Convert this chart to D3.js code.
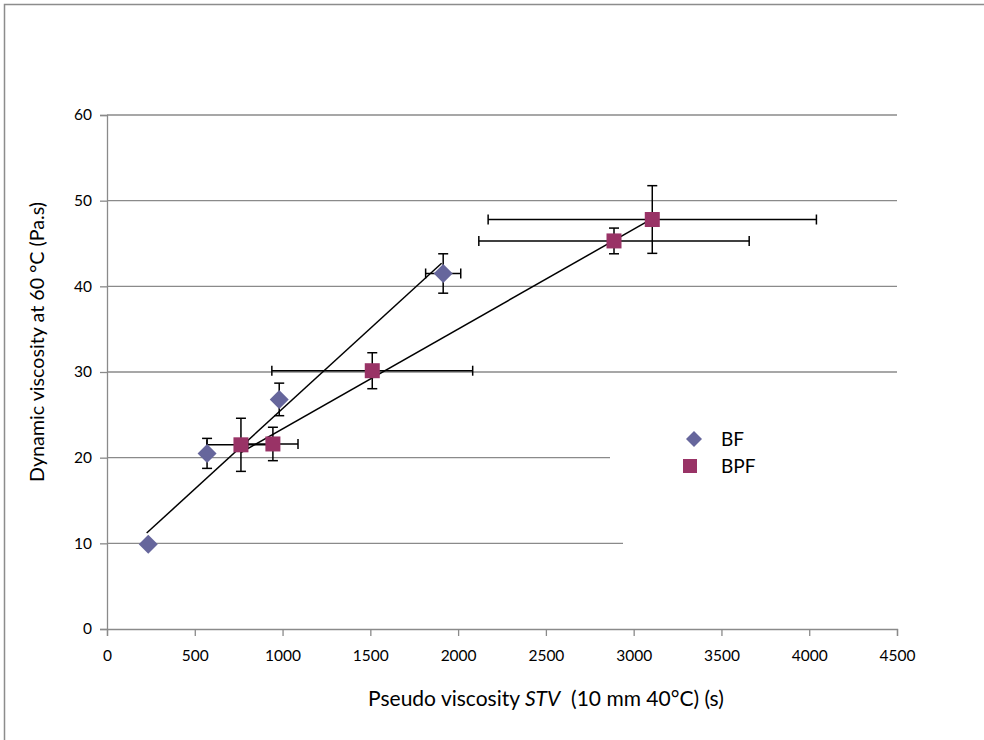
<!DOCTYPE html>
<html>
<head>
<meta charset="utf-8">
<script src="https://cdn.jsdelivr.net/npm/d3@7/dist/d3.min.js"></script>
<style>
  body { margin: 0; background: #fff; }
  svg text { font-family: Lato, "Open Sans", sans-serif; fill: #000; }
</style>
</head>
<body>
<svg id="chart" width="984" height="740"></svg>
<script>
// BF series
var bfX = [235, 570, 981, 1915];
var bfY = [9.9, 20.5, 26.8, 41.5];
var bfXErr = [0, 0, 0, 100];
var bfYErr = [0, 1.75, 1.9, 2.3];

// BPF series
var bpfX = [763, 945, 1511, 2888, 3106];
var bpfY = [21.5, 21.6, 30.15, 45.3, 47.8];
var bpfXErr = [194, 143, 572, 770, 935];
var bpfYErr = [3.1, 1.95, 2.1, 1.5, 3.95];

// straight lines drawn through each series (start, end)
var bfTrend = [[226, 11.2], [1906, 42.7]];
var bpfTrend = [[763, 20.6], [3106, 47.9]];

var xTicks = [0, 500, 1000, 1500, 2000, 2500, 3000, 3500, 4000, 4500];
var yTicks = [0, 10, 20, 30, 40, 50, 60];

var svg = d3.select('#chart');

var x = d3.scaleLinear().domain([0, 4500]).range([107, 897]);
var y = d3.scaleLinear().domain([0, 60]).range([629, 115]);

// chart frame
svg.append('rect')
    .attr('x', 4.5).attr('y', 4.5)
    .attr('width', 1000).attr('height', 800)
    .attr('fill', 'none')
    .attr('stroke', '#8c8c8c')
    .attr('stroke-width', 1.5);

// gridlines
svg.append('g')
    .selectAll('line')
    .data(yTicks.filter(function (d) { return d > 0; }))
    .enter()
    .append('line')
    .attr('x1', x(0)).attr('x2', x(4500))
    .attr('y1', function (d) { return y(d); })
    .attr('y2', function (d) { return y(d); })
    .attr('stroke', '#8a8a8a')
    .attr('stroke-width', 1.3);

// legend background hides part of the lower gridlines
svg.append('rect').attr('x', 610).attr('y', 448).attr('width', 290).attr('height', 20).attr('fill', '#fff');
svg.append('rect').attr('x', 623).attr('y', 533).attr('width', 280).attr('height', 20).attr('fill', '#fff');

// axes
var yAxis = svg.append('g')
    .attr('transform', 'translate(' + x(0) + ',0)')
    .call(d3.axisLeft(y).tickValues(yTicks).tickSize(7).tickPadding(8));
var xAxis = svg.append('g')
    .attr('transform', 'translate(0,' + y(0) + ')')
    .call(d3.axisBottom(x).tickValues(xTicks).tickSize(7).tickPadding(14).tickFormat(d3.format('d')));

[xAxis, yAxis].forEach(function (a) {
    a.select('.domain').attr('stroke', '#8a8a8a').attr('stroke-width', 1.3);
    a.selectAll('.tick line').attr('stroke', '#8a8a8a').attr('stroke-width', 1.3);
    a.selectAll('.tick text').attr('font-size', 15.5).attr('fill', '#000');
});

// axis titles
svg.append('text')
    .attr('transform', 'translate(44,' + 342 + ') rotate(-90)')
    .attr('text-anchor', 'middle')
    .attr('font-size', 19.7)
    .text('Dynamic viscosity at 60 °C (Pa.s)');

var xt = svg.append('text')
    .attr('x', 546).attr('y', 706)
    .attr('text-anchor', 'middle')
    .attr('font-size', 21)
    .style('white-space', 'pre');
xt.append('tspan').text('Pseudo viscosity ');
xt.append('tspan').attr('font-style', 'italic').text('STV');
xt.append('tspan').text('\u00a0 (10 mm 40°C) (s)');

// trend lines
var line = d3.line()
    .x(function (d) { return x(d[0]); })
    .y(function (d) { return y(d[1]); });

[bfTrend, bpfTrend].forEach(function (t) {
    svg.append('path')
        .attr('d', line(t))
        .attr('fill', 'none')
        .attr('stroke', '#000')
        .attr('stroke-width', 1.5);
});

// error bars
function drawErrors(xs, ys, xe, ye) {
    var g = svg.append('g').attr('stroke', '#000').attr('stroke-width', 1.5);
    var cap = 5;
    for (var i = 0; i < xs.length; i++) {
        var cx = x(xs[i]), cy = y(ys[i]);
        if (ye[i] > 0) {
            var y1 = y(ys[i] + ye[i]), y2 = y(ys[i] - ye[i]);
            g.append('line').attr('x1', cx).attr('x2', cx).attr('y1', y1).attr('y2', y2);
            g.append('line').attr('x1', cx - cap).attr('x2', cx + cap).attr('y1', y1).attr('y2', y1);
            g.append('line').attr('x1', cx - cap).attr('x2', cx + cap).attr('y1', y2).attr('y2', y2);
        }
        if (xe[i] > 0) {
            var x1 = x(xs[i] - xe[i]), x2 = x(xs[i] + xe[i]);
            g.append('line').attr('x1', x1).attr('x2', x2).attr('y1', cy).attr('y2', cy);
            g.append('line').attr('x1', x1).attr('x2', x1).attr('y1', cy - cap).attr('y2', cy + cap);
            g.append('line').attr('x1', x2).attr('x2', x2).attr('y1', cy - cap).attr('y2', cy + cap);
        }
    }
}
drawErrors(bfX, bfY, bfXErr, bfYErr);
drawErrors(bpfX, bpfY, bpfXErr, bpfYErr);

// markers
var bfColor = '#66669c';
var bpfColor = '#993366';
var diamond = 'M0,-9.5L9.5,0L0,9.5L-9.5,0Z';

svg.append('g')
    .selectAll('path')
    .data(d3.range(bfX.length))
    .enter()
    .append('path')
    .attr('d', diamond)
    .attr('transform', function (i) { return 'translate(' + x(bfX[i]) + ',' + y(bfY[i]) + ')'; })
    .attr('fill', bfColor);

svg.append('g')
    .selectAll('rect')
    .data(d3.range(bpfX.length))
    .enter()
    .append('rect')
    .attr('x', function (i) { return x(bpfX[i]) - 7.5; })
    .attr('y', function (i) { return y(bpfY[i]) - 7.5; })
    .attr('width', 15).attr('height', 15)
    .attr('fill', bpfColor);

// legend
var legend = svg.append('g');
legend.append('path').attr('d', 'M0,-8L8,0L0,8L-8,0Z')
    .attr('transform', 'translate(694,439)').attr('fill', bfColor);
legend.append('rect').attr('x', 683).attr('y', 459).attr('width', 14).attr('height', 14).attr('fill', bpfColor);
legend.append('text').attr('x', 721).attr('y', 446).attr('font-size', 19).text('BF');
legend.append('text').attr('x', 721).attr('y', 473).attr('font-size', 19).text('BPF');
</script>
</body>
</html>
